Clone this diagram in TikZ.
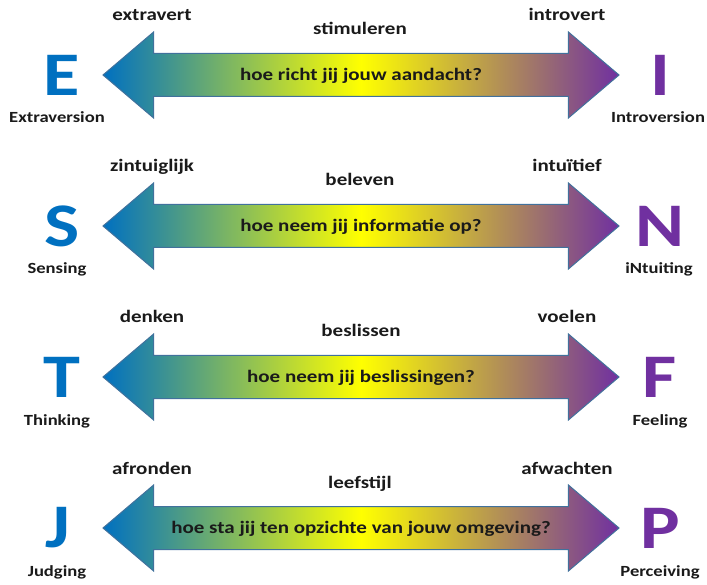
\documentclass[tikz,border=0pt]{standalone}
\usepackage{fontspec}
\setmainfont{Carlito}[FakeStretch=1.2]
\usetikzlibrary{shapes.arrows}
\definecolor{poleblue}{HTML}{0070C0}
\definecolor{polepurple}{HTML}{7030A0}
\definecolor{arrowedge}{HTML}{41719C}
\definecolor{ink}{HTML}{1A1A1A}
\begin{document}
\begin{tikzpicture}[x=1pt,y=-1pt,
    letterleft/.style={font=\fontsize{62}{62}\selectfont\bfseries,text=poleblue,inner sep=0},
    letterright/.style={font=\fontsize{62}{62}\selectfont\bfseries,text=polepurple,inner sep=0},
    pname/.style={font=\fontsize{15.5}{16}\selectfont\bfseries,text=ink,anchor=base,inner sep=0},
    pword/.style={font=\fontsize{17.5}{18}\selectfont\bfseries,text=ink,anchor=base,inner sep=0},
    axisarrow/.style={double arrow,draw=arrowedge,line width=1pt,
      double arrow head extend=21.5,double arrow tip angle=80.7,
      minimum height=516,inner xsep=0,inner ysep=12.5,text height=14,text depth=3,
      left color=poleblue,right color=polepurple,middle color=yellow,
      font=\fontsize{17.5}{18}\selectfont\bfseries,text=ink}]
  \useasboundingbox (0,0) rectangle (707,585);

  % extraversion - introversion
  \node (E) at (62,75) [letterleft]{E};
  \node (I) at (660,75) [letterright]{I};
  \node (Ename) at (57,123) [pname]{Extraversion};
  \node (Iname) at (658,123) [pname]{Introversion};
  \node (extra) at (152,21) [pword]{extravert};
  \node (intro) at (567,21) [pword]{introvert};
  \node (stim) at (360,35) [pword]{stimuleren};
  \node (EI) at (361,75) [axisarrow]{hoe richt jij jouw aandacht?};

  % sensing - intuiting
  \node (S) at (62,226) [letterleft]{S};
  \node (N) at (660,226) [letterright]{N};
  \node (Sname) at (57,274) [pname]{Sensing};
  \node (Nname) at (659,274) [pname]{iNtuiting};
  \node (zint) at (152,172) [pword]{zintuiglijk};
  \node (intu) at (567,172) [pword]{intuïtief};
  \node (bel) at (360,186) [pword]{beleven};
  \node (SN) at (361,226) [axisarrow]{hoe neem jij informatie op?};

  % thinking - feeling
  \node (T) at (62,377) [letterleft]{T};
  \node (F) at (660,377) [letterright]{F};
  \node (Tname) at (57,425) [pname]{Thinking};
  \node (Fname) at (660,425) [pname]{Feeling};
  \node (denk) at (152,323) [pword]{denken};
  \node (voel) at (567,323) [pword]{voelen};
  \node (besl) at (361,337) [pword]{beslissen};
  \node (TF) at (361,377) [axisarrow]{hoe neem jij beslissingen?};

  % judging - perceiving
  \node (J) at (58,528) [letterleft]{J};
  \node (P) at (660,528) [letterright]{P};
  \node (Jname) at (57,576) [pname]{Judging};
  \node (Pname) at (660,576) [pname]{Perceiving};
  \node (afr) at (152,474) [pword]{afronden};
  \node (afw) at (567,474) [pword]{afwachten};
  \node (leef) at (360,488) [pword]{leefstijl};
  \node (JP) at (361,528) [axisarrow]{hoe sta jij ten opzichte van jouw omgeving?};

\end{tikzpicture}
\end{document}
